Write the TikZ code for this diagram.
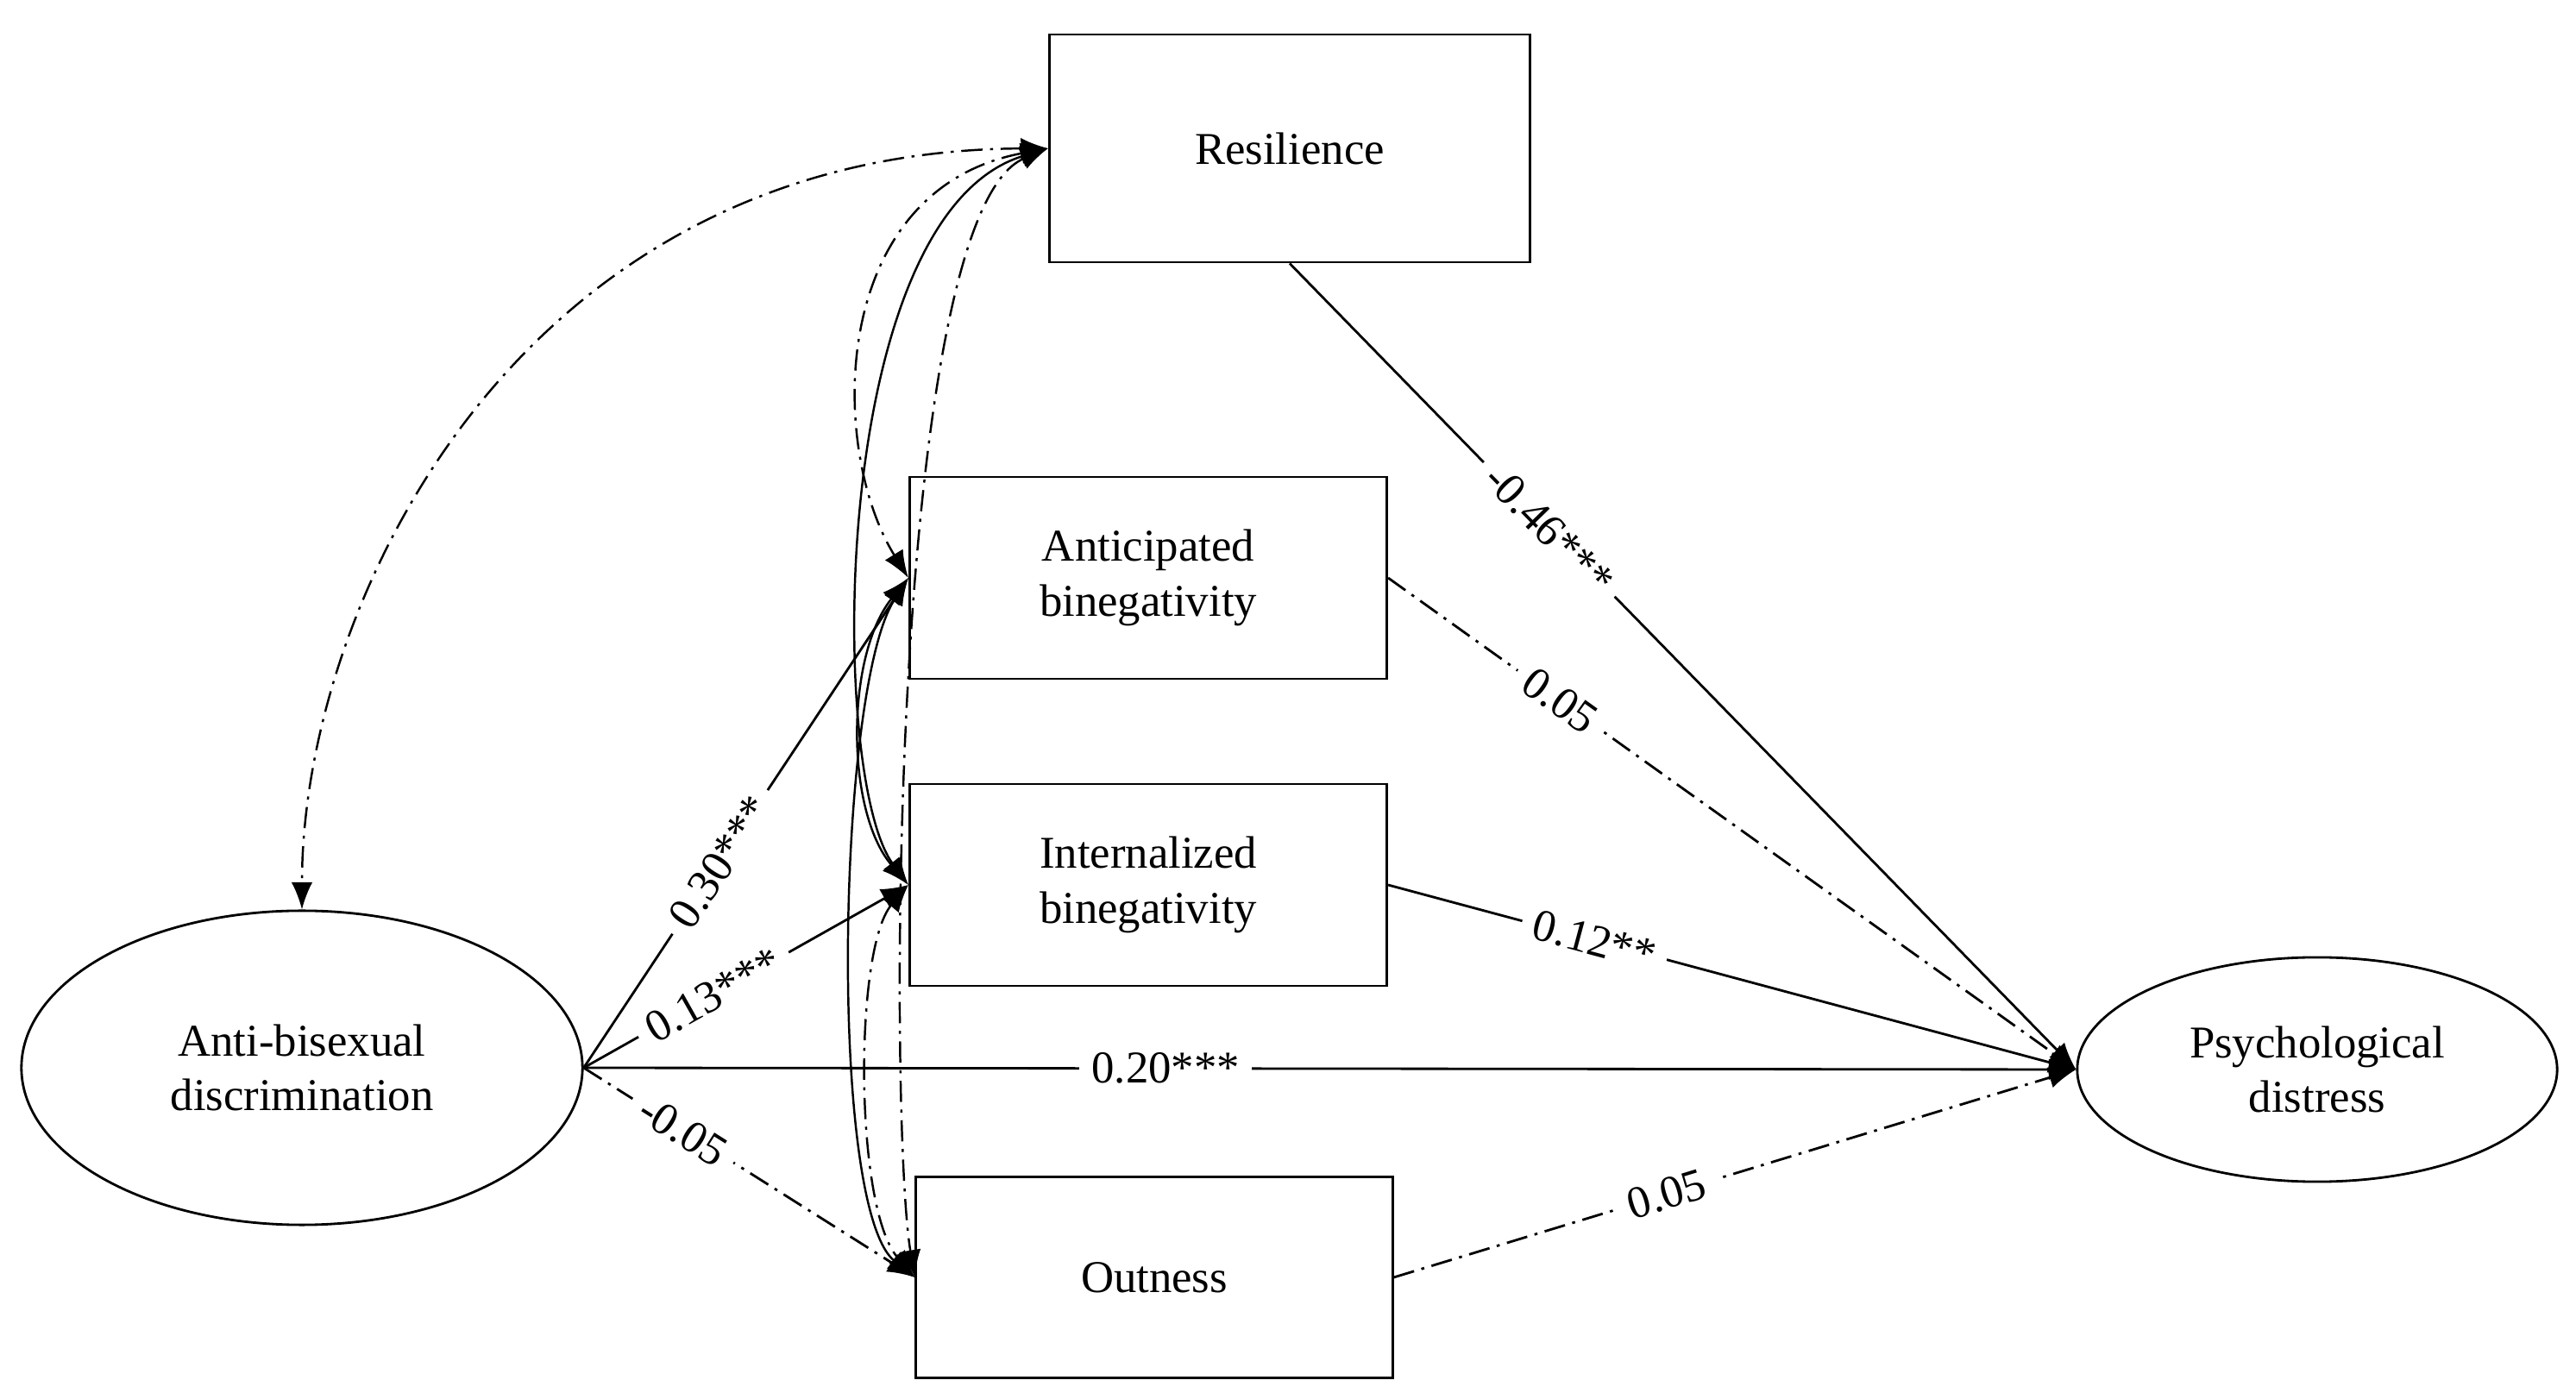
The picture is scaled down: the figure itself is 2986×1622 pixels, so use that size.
\documentclass[tikz,border=0pt]{standalone}
\usepackage{fontspec}
\setmainfont{Liberation Serif}
\usetikzlibrary{shapes.geometric,arrows.meta}
\begin{document}
\begin{tikzpicture}[x=0.01cm,y=-0.01cm,
  every node/.style={font=\fontsize{15}{18}\selectfont},
  box/.style={draw,line width=0.8pt,align=center,inner sep=0},
  ell/.style={draw,ellipse,line width=0.8pt,align=center,inner sep=0},
  lnk/.style={line width=0.8pt,-{Latex[length=9pt,width=7pt]}},
  dd/.style={dash pattern=on 7pt off 2.5pt on 1pt off 2.5pt},
  cov/.style={line width=0.7pt,{Latex[length=9pt,width=7pt]}-{Latex[length=9pt,width=7pt]}},
  lab/.style={sloped,fill=white,inner sep=4pt}]
\useasboundingbox (0,0) rectangle (2986,1622);
\node[box,minimum width=5.57cm,minimum height=2.64cm] (res) at (1495,172) {Resilience};
\node[box,minimum width=5.53cm,minimum height=2.34cm] (ant) at (1331,670) {Anticipated\\binegativity};
\node[box,minimum width=5.53cm,minimum height=2.34cm] (int) at (1331,1026) {Internalized\\binegativity};
\node[box,minimum width=5.52cm,minimum height=2.33cm] (out) at (1338,1481) {Outness};
\node[ell,minimum width=6.5cm,minimum height=3.64cm] (abd) at (350,1238) {Anti-bisexual\\discrimination};
\node[ell,minimum width=5.56cm,minimum height=2.6cm] (psy) at (2686,1240) {Psychological\\distress};
% paths
\draw[lnk] (abd.east) -- node[lab,pos=0.42]{0.30***} (ant.west);
\draw[lnk] (abd.east) -- node[lab,pos=0.4]{0.13***} (int.west);
\draw[lnk,dd] (abd.east) -- node[lab,pos=0.3]{-0.05} (out.west);
\draw[lnk] (abd.east) -- node[fill=white,inner sep=4pt,pos=0.39]{0.20***} (psy.west);
\draw[lnk] (res.south) -- node[lab,pos=0.33]{-0.46***} (psy.west);
\draw[lnk,dd] (ant.east) -- node[lab,pos=0.25]{0.05} (psy.west);
\draw[lnk] (int.east) -- node[lab,pos=0.3]{0.12**} (psy.west);
\draw[lnk,dd] (out.east) -- node[lab,pos=0.4]{0.05} (psy.west);
% covariances
\draw[cov,dd] (res.west) .. controls (600,175) and (350,700) .. (abd.north);
\draw[cov,dd] (res.west) .. controls (960,220) and (960,520) .. (ant.west);
\draw[cov] (res.west) .. controls (960,250) and (960,900) .. (int.west);
\draw[cov,dd] (res.west) .. controls (1030,250) and (1030,1300) .. (out.west);
\draw[cov] (ant.west) .. controls (980,760) and (980,940) .. (int.west);
\draw[cov] (ant.west) .. controls (970,800) and (960,1400) .. (out.west);
\draw[cov,dd] (int.west) .. controls (990,1100) and (990,1400) .. (out.west);
\end{tikzpicture}
\end{document}
